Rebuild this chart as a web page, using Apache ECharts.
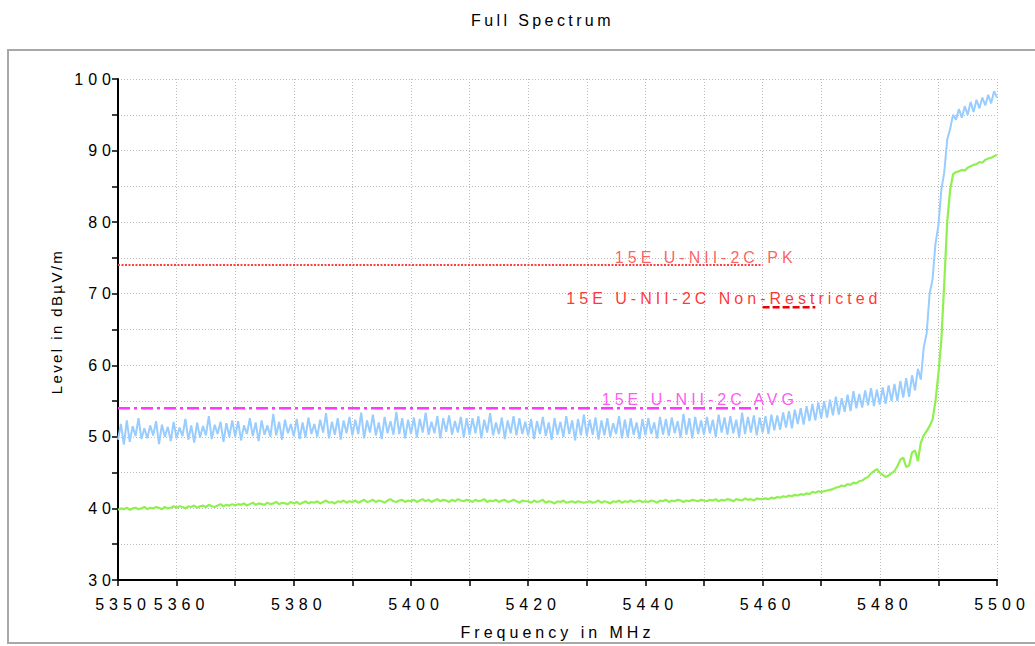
<!DOCTYPE html>
<html><head><meta charset="utf-8">
<script src="https://cdn.jsdelivr.net/npm/echarts@6/dist/echarts.min.js"></script>
<style>html,body{margin:0;padding:0;background:#fff}#c{width:1035px;height:646px}</style>
</head><body><div id="c"></div>
<script>
const TITLE = 'Full Spectrum';
const X_NAME = 'Frequency in MHz';
const Y_NAME = 'Level in dB\u00b5V/m';
const FREQ_START = 5350;
const FREQ_STEP = 0.5;
const X_LABELS = [5350, 5360, 5380, 5400, 5420, 5440, 5460, 5480, 5500];
const Y_LABELS = [30, 40, 50, 60, 70, 80, 90, 100];

// Peak trace (blue), one row per 10 MHz, 0.5 MHz per point
const BLUE_TRACE = [
  49.6, 51.8, 48.9, 52.3, 49.3, 51.5, 50.1, 52.6, 49.7, 51.2, 49.8, 51.6, 50.2, 52.2, 49.0, 51.7, 50.0, 51.4, 49.4, 52.1,
  49.8, 51.3, 50.1, 52.5, 49.6, 51.6, 49.2, 52.0, 49.9, 51.5, 50.2, 52.9, 49.7, 51.7, 50.4, 52.1, 49.3, 51.9, 50.0, 52.3,
  50.0, 52.2, 49.5, 51.6, 50.4, 52.6, 50.1, 52.0, 49.4, 52.3, 50.3, 51.6, 50.0, 53.2, 50.2, 52.1, 49.6, 52.4, 50.5, 51.8,
  50.1, 52.5, 49.7, 52.0, 49.9, 52.7, 50.4, 51.8, 50.0, 52.4, 50.6, 53.3, 49.8, 52.1, 50.3, 52.6, 49.6, 52.3, 50.5, 52.8,
  50.2, 52.4, 50.4, 53.4, 49.8, 52.3, 50.6, 53.1, 50.2, 52.0, 49.7, 52.8, 50.5, 52.2, 50.3, 53.5, 50.4, 52.6, 49.8, 52.4,
  50.4, 52.7, 49.9, 52.5, 50.6, 53.4, 50.3, 52.1, 50.5, 52.9, 49.8, 52.6, 50.7, 53.0, 50.3, 52.2, 50.6, 52.8, 49.9, 52.6,
  50.3, 52.6, 50.5, 52.9, 49.8, 52.4, 50.6, 53.3, 50.2, 52.0, 50.4, 52.7, 49.7, 52.3, 50.5, 52.9, 50.2, 52.6, 50.4, 52.1,
  50.2, 52.5, 49.7, 52.2, 50.4, 52.8, 50.1, 52.0, 49.6, 52.6, 50.3, 52.1, 50.0, 52.9, 50.4, 52.3, 49.5, 52.5, 50.2, 53.1,
  50.1, 52.4, 50.3, 52.7, 49.6, 52.3, 50.2, 52.6, 50.0, 51.9, 50.4, 52.9, 49.8, 52.4, 49.9, 52.6, 50.3, 52.0, 49.7, 52.5,
  50.2, 52.6, 50.4, 52.0, 49.8, 52.8, 50.3, 52.5, 50.1, 52.7, 50.5, 52.2, 49.9, 53.2, 50.3, 52.6, 49.8, 52.8, 50.4, 52.3,
  50.3, 52.8, 50.5, 52.4, 50.0, 53.1, 50.6, 52.7, 50.3, 52.9, 50.5, 52.4, 49.9, 53.4, 50.4, 52.8, 50.6, 53.0, 50.2, 52.7,
  50.6, 52.9, 50.4, 53.1, 50.9, 53.0, 51.0, 53.4, 51.3, 53.6, 51.2, 53.8, 51.8, 54.0, 51.7, 54.3, 52.2, 54.6, 52.3, 54.8,
  52.6, 55.0, 52.7, 55.2, 53.0, 55.6, 53.1, 55.4, 53.5, 55.9, 53.6, 56.4, 54.0, 56.0, 54.1, 56.5, 54.4, 56.8, 54.3, 56.6,
  54.5, 56.9, 54.6, 57.2, 55.0, 57.4, 55.0, 57.8, 55.5, 58.2, 55.6, 58.6, 56.5, 59.5, 58.0, 62.5, 64.5, 70.0, 72.0, 77.0,
  79.5, 84.5, 87.0, 91.5, 93.0, 95.0, 94.3, 95.8, 94.6, 96.2, 95.0, 96.8, 95.4, 97.1, 95.9, 97.4, 96.3, 97.8, 96.6, 98.3,
  97.4
];

// Average trace (green), same frequency grid
const GREEN_TRACE = [
  39.8, 40.0, 39.9, 40.1, 39.8, 40.0, 40.1, 39.9, 40.0, 40.2, 39.9, 40.1, 40.0, 40.2, 40.1, 39.9, 40.2, 40.0, 40.1, 40.3,
  40.1, 40.3, 40.2, 40.0, 40.3, 40.2, 40.4, 40.1, 40.3, 40.4, 40.2, 40.5, 40.3, 40.2, 40.4, 40.6, 40.3, 40.5, 40.4, 40.6,
  40.4, 40.6, 40.5, 40.7, 40.4, 40.6, 40.8, 40.5, 40.7, 40.6, 40.5, 40.8, 40.6, 40.7, 40.9, 40.6, 40.8, 40.7, 40.6, 40.9,
  40.7, 40.9, 40.6, 40.8, 41.0, 40.7, 40.9, 40.8, 41.0, 40.7, 40.9, 41.1, 40.8, 40.9, 40.7, 41.0, 40.9, 41.1, 40.8, 41.0,
  40.9, 41.1, 40.8, 41.0, 41.2, 40.9, 41.0, 41.2, 40.9, 41.1, 41.0, 40.8, 41.1, 41.3, 41.0, 40.9, 41.1, 41.2, 40.9, 41.1,
  41.0, 41.2, 40.9, 41.1, 41.3, 41.0, 41.2, 40.9, 41.1, 41.3, 41.0, 41.2, 41.1, 40.9, 41.2, 41.0, 41.3, 41.1, 41.0, 41.2,
  41.1, 40.9, 41.2, 41.0, 41.1, 41.3, 40.9, 41.1, 41.0, 41.2, 40.9, 41.1, 41.2, 40.9, 41.0, 41.2, 41.0, 40.8, 41.1, 41.0,
  41.0, 40.8, 41.1, 40.9, 41.0, 41.2, 40.8, 41.0, 40.9, 40.7, 41.0, 40.9, 41.1, 40.8, 40.9, 41.0, 40.8, 41.0, 40.9, 40.8,
  40.9, 41.0, 40.8, 40.9, 41.1, 40.8, 41.0, 40.9, 40.7, 41.0, 40.9, 41.1, 40.8, 41.0, 40.9, 41.1, 40.9, 41.0, 41.1, 40.9,
  41.0, 40.9, 41.1, 41.0, 40.8, 41.1, 41.0, 41.2, 40.9, 41.1, 41.0, 41.2, 41.1, 40.9, 41.1, 41.0, 41.2, 41.1, 41.0, 41.2,
  41.1, 41.0, 41.2, 41.1, 41.3, 41.0, 41.2, 41.1, 41.3, 41.2, 41.0, 41.3, 41.2, 41.1, 41.4, 41.2, 41.3, 41.1, 41.4, 41.3,
  41.3, 41.4, 41.3, 41.5, 41.4, 41.6, 41.5, 41.7, 41.6, 41.8, 41.7, 41.9, 41.8, 42.0, 41.9, 42.1, 42.0, 42.3, 42.2, 42.4,
  42.3, 42.4, 42.5, 42.6, 42.7, 42.9, 43.0, 43.2, 43.1, 43.4, 43.3, 43.6, 43.5, 43.8, 43.9, 44.2, 44.4, 44.9, 45.2, 45.5,
  45.0, 44.7, 44.4, 44.6, 44.9, 45.2, 45.9, 46.8, 47.1, 45.8, 46.0, 47.8, 48.1, 46.6, 49.2, 50.2, 50.8, 51.5, 52.4, 55.0,
  58.8, 63.5, 71.5, 80.0, 84.5, 86.7, 87.0, 87.1, 87.3, 87.2, 87.6, 87.8, 88.0, 88.1, 88.4, 88.3, 88.7, 88.9, 89.0, 89.2,
  89.4
];

// Limit lines
const PK_FREQ = [5350, 5460];
const PK_LEVEL = [74, 74];
const AVG_FREQ = [5350, 5460];
const AVG_LEVEL = [54, 54];
const NR_FREQ = [5460, 5469];
const NR_LEVEL = [68.1, 68.1];
const LIMIT_TEXT = ['15E U-NII-2C PK', '15E U-NII-2C Non-Restricted', '15E U-NII-2C AVG'];
const LIMIT_TEXT_FREQ = [5450.3, 5453.4, 5449.3];
const LIMIT_TEXT_LEVEL = [75.1, 69.4, 55.15];
const LIMIT_TEXT_COLOR = ['#ff3838', '#ff0000', '#ff2ef0'];

const FONT = '"Liberation Sans", Arial, sans-serif';
const pairs = (fs, vs) => fs.map((f, i) => [f, vs[i]]);
const traceData = vs => vs.map((v, i) => [FREQ_START + i * FREQ_STEP, v]);

const chart = echarts.init(document.getElementById('c'), null, { renderer: 'svg' });
chart.setOption({
  animation: false,
  backgroundColor: '#fff',
  title: {
    text: TITLE, left: 466, top: 7,
    textStyle: { fontFamily: FONT, fontSize: 16, fontWeight: 'normal', color: '#000' }
  },
  graphic: [{
    type: 'rect', silent: true, z: -1,
    shape: { x: 8, y: 50, width: 1040, height: 593 },
    style: { fill: 'none', stroke: '#a8a8a8', lineWidth: 2 }
  }],
  grid: { left: 118, right: 38, top: 79, bottom: 66 },
  xAxis: {
    type: 'value', min: 5350, max: 5500, interval: 10,
    name: X_NAME, nameLocation: 'middle', nameGap: 44,
    nameTextStyle: { fontFamily: FONT, fontSize: 16, color: '#000' },
    axisLine: { onZero: false, lineStyle: { color: '#000', width: 2 } },
    axisTick: { length: 6, lineStyle: { color: '#000', width: 1.5 } },
    axisLabel: {
      fontFamily: FONT, fontSize: 16, color: '#000', margin: 16, padding: [0, 0, 0, 10],
      formatter: v => X_LABELS.includes(v) ? String(v) : ''
    },
    splitLine: { show: true, lineStyle: { color: '#bdbdbd', width: 1, type: [1, 2] } }
  },
  yAxis: {
    type: 'value', min: 30, max: 100, interval: 5,
    name: Y_NAME, nameLocation: 'middle', nameGap: 54, nameRotate: 90,
    nameTextStyle: { fontFamily: FONT, fontSize: 15, color: '#000', padding: [0, 0, 0, 16] },
    axisLine: { show: true, lineStyle: { color: '#000', width: 2 } },
    axisTick: { length: 6, lineStyle: { color: '#000', width: 1.5 } },
    axisLabel: {
      fontFamily: FONT, fontSize: 16, color: '#000', margin: 2,
      formatter: v => Y_LABELS.includes(v) ? String(v) : ''
    },
    splitLine: { show: true, lineStyle: { color: '#bdbdbd', width: 1, type: [1, 2] } }
  },
  series: [
    { name: 'PK trace', type: 'line', data: traceData(BLUE_TRACE), showSymbol: false, silent: true,
      lineStyle: { color: '#99ccff', width: 2 }, z: 2 },
    { name: 'AVG trace', type: 'line', data: traceData(GREEN_TRACE), showSymbol: false, silent: true,
      lineStyle: { color: '#8ff04f', width: 2.2 }, z: 3 },
    { name: 'PK limit', type: 'line', data: pairs(PK_FREQ, PK_LEVEL), showSymbol: false, silent: true,
      lineStyle: { color: '#ff4040', width: 2, type: [2, 1.5] }, z: 4 },
    { name: 'AVG limit', type: 'line', data: pairs(AVG_FREQ, AVG_LEVEL), showSymbol: false, silent: true,
      lineStyle: { color: '#ff38ff', width: 2.5, type: [12, 4, 3, 4] }, z: 4 },
    { name: 'Non-Restricted limit', type: 'line', data: pairs(NR_FREQ, NR_LEVEL), showSymbol: false, silent: true,
      lineStyle: { color: '#ee0000', width: 2.5, type: [7, 3] }, z: 4 },
    { name: 'Limit labels', type: 'scatter', symbolSize: 0, silent: true, z: 5,
      data: LIMIT_TEXT.map((t, i) => ({
        name: t, value: [LIMIT_TEXT_FREQ[i], LIMIT_TEXT_LEVEL[i]],
        label: { color: LIMIT_TEXT_COLOR[i] }
      })),
      label: { show: true, position: 'inside', formatter: p => p.name,
        fontFamily: FONT, fontSize: 16, align: 'center', verticalAlign: 'middle' }
    }
  ]
});

function applySpacing() {
  document.querySelectorAll('#c svg text').forEach(t => {
    const s = t.textContent;
    let sp = 4;
    if (/^\d+$/.test(s)) sp = 5;
    else if (s === TITLE) sp = 3.4;
    else if (s === Y_NAME) sp = 2.4;
    t.setAttribute('letter-spacing', sp);
    t.style.letterSpacing = sp + 'px';
  });
}
applySpacing();
chart.on('finished', applySpacing);
</script>
</body></html>
